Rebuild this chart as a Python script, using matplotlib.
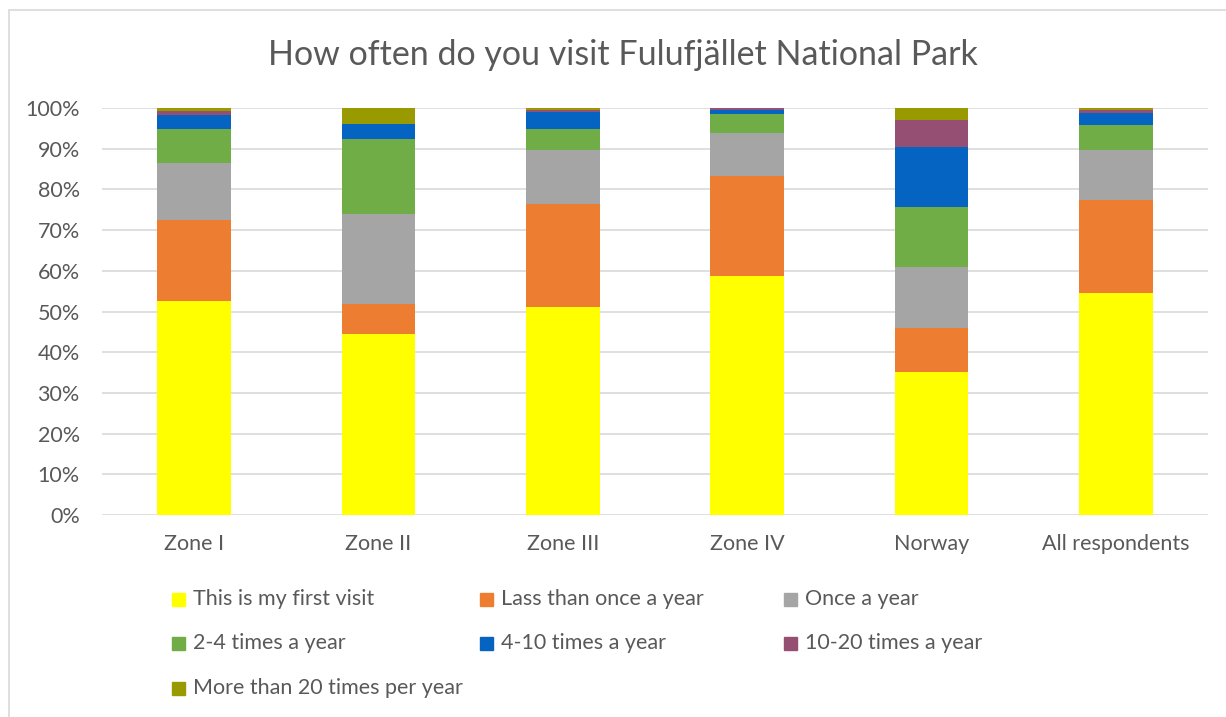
#Stacked bar chart: how often do you visit Fulufjallet
import numpy as np
import matplotlib
matplotlib.use("Agg")
import matplotlib.pyplot as plt
from matplotlib.patches import Rectangle

categories=["Zone I","Zone II","Zone III","Zone IV","Norway","All respondents"]
series_names=["This is my first visit","Lass than once a year","Once a year",
              "2-4 times a year","4-10 times a year","10-20 times a year",
              "More than 20 times per year"]
first_visit=[52.5,44.5,51.2,58.7,35.1,54.6]
less_than_once=[19.9,7.3,25.3,24.5,10.8,22.9]
once_a_year=[14.0,22.2,13.2,10.7,15.0,12.3]
two_to_four=[8.4,18.5,5.1,4.7,14.7,6.0]
four_to_ten=[3.5,3.6,4.1,1.0,14.8,3.0]
ten_to_twenty=[1.0,0.0,0.7,0.4,6.7,0.8]
more_than_twenty=[0.7,3.9,0.4,0.0,2.9,0.4]
colors=["#FFFF00","#ED7D31","#A5A5A5","#70AD47","#0563C1","#954F72","#999900"]

plt.rcParams['font.family']=['Lato','DejaVu Sans']
txt="#595959"
fs=15.5

fig=plt.figure(figsize=(12.26,7.17),dpi=100)
ax=fig.add_axes([102/1226,1-515/717,1106/1226,407/717])

data=[first_visit,less_than_once,once_a_year,two_to_four,four_to_ten,ten_to_twenty,more_than_twenty]
x=np.arange(len(categories))
bottom=np.zeros(len(categories))
for vals,name,c in zip(data,series_names,colors):
    v=np.array(vals)/100
    ax.bar(x,v,0.4,bottom=bottom,color=c,label=name,zorder=3,linewidth=0)
    bottom+=v

ax.set_xlim(-0.5,len(categories)-0.5)
ax.set_ylim(0,1)
ax.set_yticks(np.arange(0,1.01,0.1))
ax.set_yticklabels([f"{int(round(t*100))}%" for t in np.arange(0,1.01,0.1)])
ax.set_xticks(x)
ax.set_xticklabels(categories)
ax.tick_params(length=0,labelsize=fs,colors=txt)
ax.tick_params(axis='y',pad=16)
ax.tick_params(axis='x',pad=14)
ax.grid(axis='y',color="#d9d9d9",linewidth=1.2,zorder=0)
for s in ax.spines.values():
    s.set_visible(False)

fig.text(623/1226,1-55/717,"How often do you visit Fulufjället National Park",
         ha='center',va='center',fontsize=24.5,color=txt)

# legend, 3 columns laid out like the Excel one
col_x=[172,480,784]
row_y=[599,643,688]
for i,(name,c) in enumerate(zip(series_names,colors)):
    cx=col_x[i%3]; cy=row_y[i//3]
    fig.patches.append(Rectangle((cx/1226,1-(cy+7)/717),13/1226,13/717,
                                 transform=fig.transFigure,color=c,figure=fig))
    fig.text((cx+21)/1226,1-cy/717,name,ha='left',va='center',fontsize=fs,color=txt)

# chart border
fig.patches.append(Rectangle((9/1226,-0.1),1.2,1.1-10/717,transform=fig.transFigure,
                             fill=False,edgecolor="#d9d9d9",linewidth=1.2,figure=fig))

fig.savefig("out.png",dpi=100)
